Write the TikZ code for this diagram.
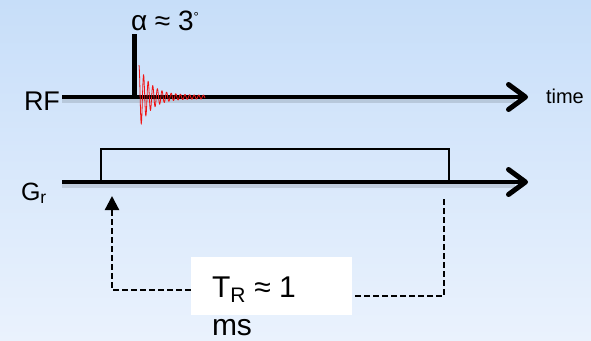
\documentclass[tikz,border=0pt]{standalone}
\usepackage{fontspec}
\setmainfont{Liberation Sans}
\usetikzlibrary{arrows.meta}
\definecolor{bgtop}{RGB}{199,222,249}
\definecolor{bgbot}{RGB}{234,242,253}
\definecolor{fidred}{RGB}{240,20,20}
\tikzset{
  axis/.style={line width=4.2pt, -{Straight Barb[length=17pt,width=25pt,line width=5pt,round]}},
  axshadow/.style={line width=6pt, black, opacity=0.12},
  lbl/.style={anchor=base west, inner sep=0pt, outer sep=0pt},
  dashline/.style={line width=2.2pt, dash pattern=on 6pt off 3pt},
  gradbox/.style={line width=1.5pt},
}
\begin{document}
\begin{tikzpicture}[x=1pt,y=-1pt]
\useasboundingbox (0,0) rectangle (591,340);
\shade[top color=bgtop,bottom color=bgbot] (0,0) rectangle (591,340);
% coordinates
\coordinate (rfs) at (62,97);
\coordinate (rfe) at (528,97);
\coordinate (grs) at (62,182);
\coordinate (gre) at (528,182);
\coordinate (pb) at (134,97);
\coordinate (pt) at (134,34);
\coordinate (gbl) at (101,182);
\coordinate (gbr) at (449,149);
\coordinate (gbe) at (449,182);
\coordinate (up) at (112,196);
\coordinate (rdash) at (444,199);
% shadows
\draw[axshadow] (62,100) -- (515,100);
\draw[axshadow] (62,185) -- (515,185);
% gradient box
\draw[gradbox] (gbl) |- (gbr) -- (gbe);
% axes
\draw[axis] (rfs) -- (rfe);
\draw[axis] (grs) -- (gre);
% RF pulse
\draw[line width=5pt] (pb) -- (pt);
% FID
\draw[fidred, line width=0.8pt] plot[domain=0:66, samples=500]
  ({139+\x}, {97 - (30*exp(-\x/12)+1.8)*cos(78.26*\x)});
% labels
\node[lbl, font=\fontsize{27}{32}\selectfont] (rf) at (24,110) {RF};
\node[lbl, font=\fontsize{20}{24}\selectfont] (time) at (546,103) {time};
\node[lbl, font=\fontsize{28}{32}\selectfont] (alpha) at (131,30) {α ≈ 3\raisebox{9pt}{\fontsize{13}{14}\selectfont °}};
\node[lbl, font=\fontsize{25}{30}\selectfont] (gr) at (21,200) {G\textsubscript{r}};
% TR box
\node[fill=white, minimum width=161pt, minimum height=58pt, inner sep=0pt] (tr) at (271.5,286) {};
\node[lbl, font=\fontsize{30}{36}\selectfont] (trtext) at (212,297) {T\textsubscript{R} ≈ 1};
\node[lbl, font=\fontsize{30}{36}\selectfont] (ms) at (212,335) {ms};
% dashed connectors
\draw[dashline, -{Triangle[length=14pt,width=14pt]}] (tr.west |- 0,290) -| (up);
\draw[dashline] (rdash) |- (tr.east |- 0,296);
\end{tikzpicture}
\end{document}
